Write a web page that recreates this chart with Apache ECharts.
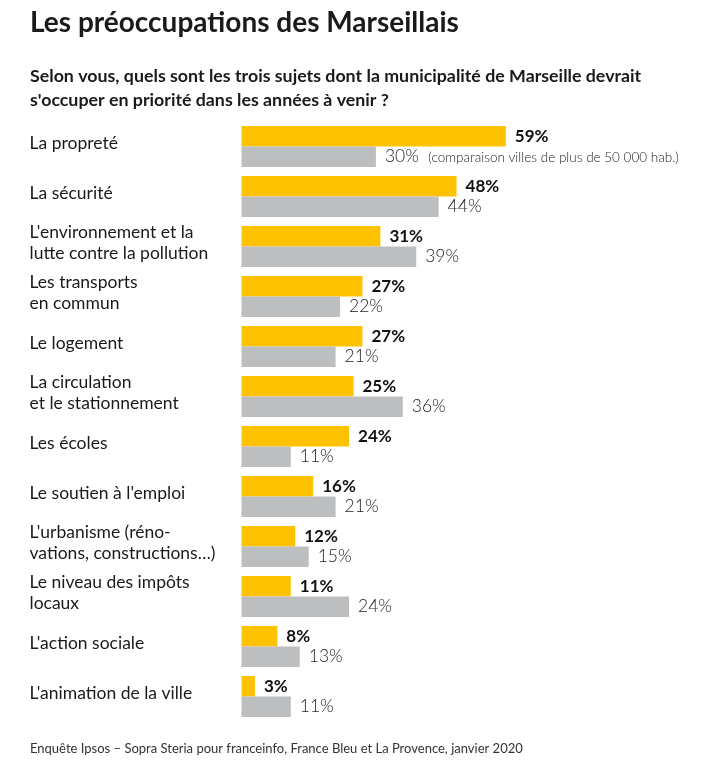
<!DOCTYPE html>
<html><head><meta charset="utf-8">
<script src="https://cdn.jsdelivr.net/npm/echarts@6/dist/echarts.min.js"></script>
<style>html,body{margin:0;padding:0;background:#fff;}#c{width:720px;height:781px;}</style>
</head><body><div id="c"></div>
<script>
const categories = [
  "La propreté",
  "La sécurité",
  "L'environnement et la\nlutte contre la pollution",
  "Les transports\nen commun",
  "Le logement",
  "La circulation\net le stationnement",
  "Les écoles",
  "Le soutien à l'emploi",
  "L'urbanisme (réno-\nvations, constructions…)",
  "Le niveau des impôts\nlocaux",
  "L'action sociale",
  "L'animation de la ville"
];
const marseille = [59, 48, 31, 27, 27, 25, 24, 16, 12, 11, 8, 3];
const villes50k = [30, 44, 39, 22, 21, 36, 11, 21, 15, 24, 13, 11];
const titleText = "Les préoccupations des Marseillais";
const subtitleText = "Selon vous, quels sont les trois sujets dont la municipalité de Marseille devrait\ns'occuper en priorité dans les années à venir ?";
const noteText = "(comparaison villes de plus de 50 000 hab.)";
const sourceText = "Enquête Ipsos – Sopra Steria pour franceinfo, France Bleu et La Provence, janvier 2020";

const FONT = "Lato";
const chart = echarts.init(document.getElementById('c'), null, {renderer: 'canvas'});
chart.setOption({
  backgroundColor: '#fff',
  animation: false,
  textStyle: {fontFamily: FONT},
  title: [
    {text: titleText, left: 25, top: 4, textStyle: {fontFamily: FONT, fontSize: 28, fontWeight: 'bold', color: '#1a1a1a'}},
    {text: subtitleText, left: 25, top: 59, textStyle: {fontFamily: FONT, fontSize: 17.8, fontWeight: 'bold', color: '#1a1a1a', lineHeight: 24}},
    {text: sourceText, left: 25, top: 737, textStyle: {fontFamily: FONT, fontSize: 13, fontWeight: 'normal', color: '#333'}}
  ],
  grid: {left: 241.5, top: 121.5, width: 448, height: 600, containLabel: false},
  xAxis: {type: 'value', min: 0, max: 100, show: false},
  yAxis: {
    type: 'category', data: categories, inverse: true,
    axisLine: {show: false}, axisTick: {show: false},
    axisLabel: {
      align: 'left', margin: 212, fontFamily: FONT, fontSize: 17.5, color: '#1a1a1a',
      formatter: v => v.split('\n').map(s => '{a|' + s + '}').join('\n') + '\n{b|}',
      rich: {
        a: {fontFamily: FONT, fontSize: 17.5, color: '#1a1a1a', lineHeight: 21},
        b: {fontSize: 4, lineHeight: 7}
      }
    }
  },
  series: [
    {
      type: 'bar', data: marseille, barWidth: 20.5, barGap: '0%', barCategoryGap: '18%',
      itemStyle: {color: '#FFC200'},
      label: {show: true, position: 'right', distance: 9, formatter: '{c}%',
        fontFamily: FONT, fontSize: 17, fontWeight: 'bold', color: '#111'}
    },
    {
      type: 'bar', data: villes50k, barWidth: 20.5, barGap: '0%',
      itemStyle: {color: '#BCBEC0'},
      label: {show: true, position: 'right', distance: 9,
        formatter: p => p.dataIndex === 0 ? p.value + '%  {n|' + noteText + '}' : p.value + '%',
        fontFamily: FONT, fontSize: 17.5, fontWeight: 300, color: '#222',
        rich: {n: {fontFamily: FONT, fontSize: 13.5, fontWeight: 300, color: '#222', padding: [2, 0, 0, 0]}}}
    }
  ]
});
</script></body></html>
